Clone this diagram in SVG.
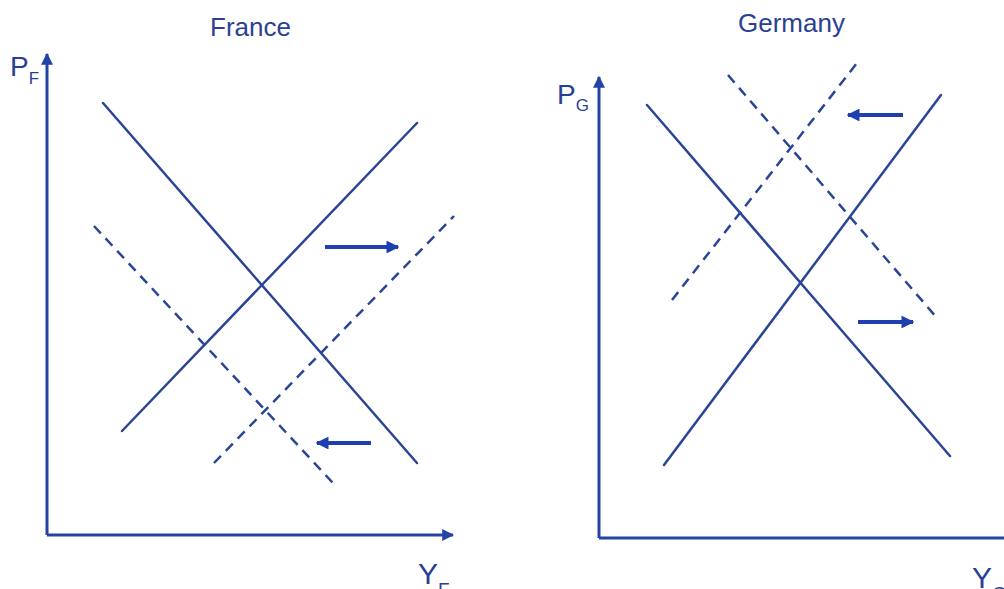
<svg xmlns="http://www.w3.org/2000/svg" width="1004" height="589" viewBox="0 0 1004 589">
<style>
.axis{stroke:#2443a6;stroke-width:3;fill:none}
.curve{stroke:#2b4596;stroke-width:2.5;fill:none;stroke-linecap:round}
.dash{stroke:#2b4596;stroke-width:2.5;fill:none;stroke-dasharray:10 7}
.shift{stroke:#1f3fb0;stroke-width:4;fill:none}
.lbl{font-family:"Liberation Sans",Arial,sans-serif;fill:#2a3f8f}
.title{font-family:"Liberation Sans",Arial,sans-serif;fill:#2b3f94;font-size:26px}
</style>
<defs>
<marker id="ah" viewBox="0 0 10 10" refX="9" refY="5" markerWidth="3.2" markerHeight="3.2" orient="auto" markerUnits="strokeWidth">
<path d="M0,0 L10,5 L0,10 Z" fill="#1f3fb0"/>
</marker>
<marker id="axh" viewBox="0 0 10 10" refX="9" refY="5" markerWidth="4" markerHeight="4" orient="auto" markerUnits="strokeWidth">
<path d="M0,0 L10,5 L0,10 Z" fill="#2443a6"/>
</marker>
</defs>
<rect width="1004" height="589" fill="#ffffff"/>
<g id="france">
<text class="title" x="210" y="36">France</text>
<g id="france-axes">
<path class="axis" d="M47,535 L47,54" marker-end="url(#axh)"/>
<path class="axis" d="M47,535 L453,535" marker-end="url(#axh)"/>
</g>
<text class="lbl" x="10" y="76" font-size="28">P<tspan font-size="17" dy="8">F</tspan></text>
<text class="lbl" x="418" y="584" font-size="30">Y<tspan font-size="19" dy="12">F</tspan></text>
</g>
<g id="germany">
<text class="title" x="738" y="32">Germany</text>
<g id="germany-axes">
<path class="axis" d="M599,538 L599,77" marker-end="url(#axh)"/>
<path class="axis" d="M599,538 L1004,538"/>
</g>
<text class="lbl" x="557" y="104" font-size="28">P<tspan font-size="17" dy="7">G</tspan></text>
<text class="lbl" x="972" y="588" font-size="30">Y<tspan font-size="19" dy="12">G</tspan></text>
</g>
<g id="connectors">
<line class="curve" x1="103" y1="103" x2="417" y2="463"/>
<line class="curve" x1="122" y1="431" x2="417" y2="123"/>
<line class="dash" x1="94" y1="226" x2="333" y2="483"/>
<line class="dash" x1="214" y1="463" x2="454" y2="216"/>
<line class="shift" x1="325" y1="247" x2="398" y2="247" marker-end="url(#ah)"/>
<line class="shift" x1="371" y1="443" x2="317" y2="443" marker-end="url(#ah)"/>
<line class="curve" x1="647" y1="105" x2="950" y2="456"/>
<line class="curve" x1="664" y1="465" x2="941" y2="95"/>
<line class="dash" x1="728" y1="75" x2="937" y2="318"/>
<line class="dash" x1="672" y1="300" x2="857" y2="63"/>
<line class="shift" x1="903" y1="115" x2="848" y2="115" marker-end="url(#ah)"/>
<line class="shift" x1="858" y1="322" x2="913" y2="322" marker-end="url(#ah)"/>
</g>
</svg>
